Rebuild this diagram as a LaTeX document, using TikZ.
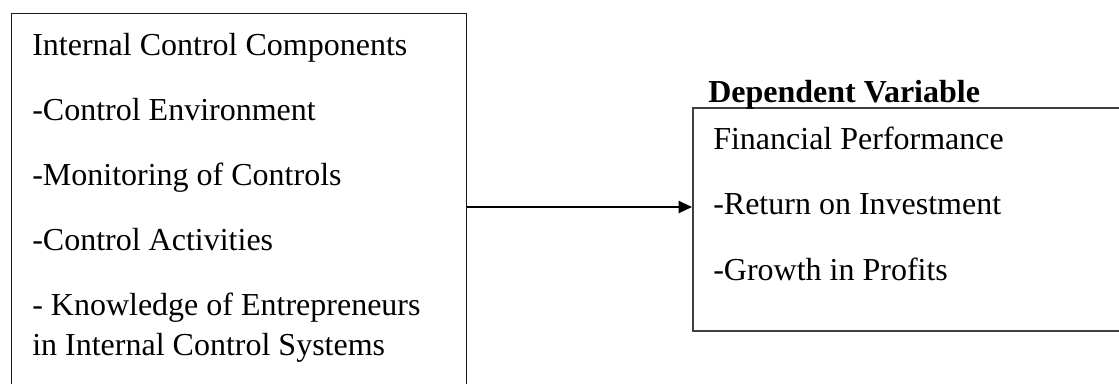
\documentclass[tikz,border=0pt]{standalone}
\usepackage{fontspec}
\setmainfont{Liberation Serif}
\usetikzlibrary{arrows.meta}

\begin{document}
\begin{tikzpicture}[x=0.75pt, y=-0.75pt,
    framebox/.style={draw=black!90, line width=0.8pt, rectangle, inner sep=0pt, anchor=north west},
    item/.style={anchor=base west, inner sep=0pt, font=\fontsize{24pt}{28pt}\selectfont}]
  % Fix the page size and cut what runs past it
  \path[use as bounding box, clip] (0,0) rectangle (1119,383);

  % Draw the two boxes
  \node[framebox, minimum width=341.25pt, minimum height=300pt] (components) at (11,13) {};
  \node[framebox, draw=black!75, line width=1.2pt, minimum width=340pt, minimum height=167.25pt] (performance) at (692,107) {};

  % Independent side
  \node[item] (comp0) at (32,55) {Internal Control Components};
  \node[item] (comp1) at (32,120) {-Control Environment};
  \node[item] (comp2) at (32,185) {-Monitoring of Controls};
  \node[item] (comp3) at (32,250) {-Control Activities};
  \node[item] (comp4) at (32,315) {- Knowledge of Entrepreneurs};
  \node[item] (comp5) at (32,355) {in Internal Control Systems};

  % Dependent side
  \node[item, font=\fontsize{24pt}{28pt}\selectfont\bfseries] (dvtitle) at (708,102) {Dependent Variable};
  \node[item] (perf0) at (713,149) {Financial Performance};
  \node[item] (perf1) at (713,214) {-Return on Investment};
  \node[item] (perf2) at (713,280) {-Growth in Profits};

  % Arrow between the boxes
  \coordinate (link) at (0,207);
  \draw[-{Triangle[length=10pt,width=9pt]}, line width=1.5pt] (components.east |- link) -- (performance.west |- link);
\end{tikzpicture}
\end{document}
